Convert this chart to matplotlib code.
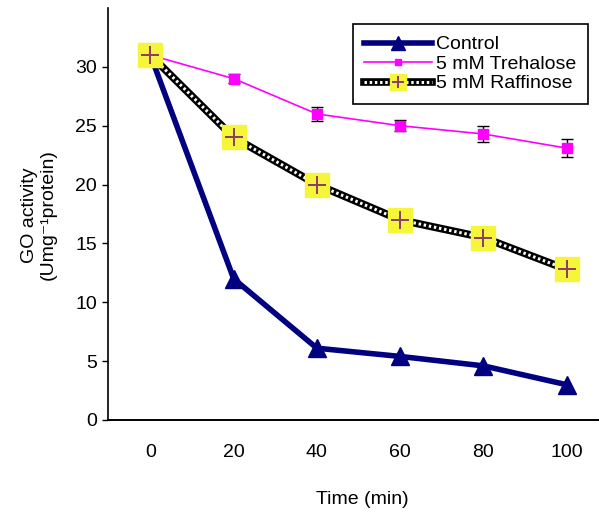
import matplotlib
matplotlib.use('Agg')
import matplotlib.pyplot as plt
from matplotlib.lines import Line2D
from matplotlib.legend_handler import HandlerTuple

plt.rcParams['font.family'] = ['Liberation Sans', 'DejaVu Sans']
plt.rcParams['font.size'] = 14

time_min = [0, 20, 40, 60, 80, 100]
control = [31.0, 12.0, 6.1, 5.4, 4.6, 3.0]
trehalose = [31.0, 29.0, 26.0, 25.0, 24.3, 23.1]
trehalose_err = [0.0, 0.4, 0.6, 0.45, 0.7, 0.8]
raffinose = [31.0, 24.0, 20.0, 17.0, 15.5, 12.8]

x_ticks = [0, 20, 40, 60, 80, 100]
y_ticks = [0, 5, 10, 15, 20, 25, 30]


def main():
    fig = plt.figure(figsize=(5.99, 5.12), dpi=100)
    ax = fig.add_axes([108 / 599, 92 / 512, 491 / 599, 412 / 512])

    # trehalose with error bars
    ax.errorbar(time_min, trehalose, yerr=trehalose_err, color='#FF00FF',
                lw=1.2, marker='s', ms=6.5, mec='#FF00FF', ecolor='black',
                elinewidth=1.0, capsize=4, capthick=1.0, zorder=3)
    h_tre = Line2D([], [], color='#FF00FF', lw=1.2, marker='s', ms=7)

    # raffinose: black line with white chain pattern
    l_raf_black, = ax.plot(time_min, raffinose, color='black', lw=5.5, zorder=2)
    l_raf_white, = ax.plot(time_min, raffinose, color='white', lw=2.2,
                           linestyle=(0, (0.8, 0.9)), zorder=2.1)
    m_raf_sq, = ax.plot(time_min, raffinose, ls='none', marker='s', ms=17,
                        mfc='#F5F53A', mec='#F5F53A', zorder=4)
    m_raf_plus, = ax.plot(time_min, raffinose, ls='none', marker='+', ms=13,
                          mew=1.4, color='#8B3A6E', zorder=5)

    # control
    l_ctrl, = ax.plot(time_min, control, color='#000080', lw=4, marker='^',
                      ms=13.5, zorder=3)

    ax.set_xlim(-10.2, 107.8)
    ax.set_ylim(0, 35)
    ax.set_xticks(x_ticks)
    ax.set_yticks(y_ticks)
    ax.tick_params(axis='x', length=0, pad=17, labelsize=14)
    ax.tick_params(axis='y', length=4, width=1, direction='out', pad=4,
                   labelsize=14)
    ax.spines['top'].set_visible(False)
    ax.spines['right'].set_visible(False)
    ax.spines['left'].set_linewidth(1.2)
    ax.spines['bottom'].set_linewidth(1.4)

    fig.text(362 / 599, 12 / 512, 'Time (min)', ha='center', va='center',
             fontsize=14)
    fig.text(39 / 599, 1 - 215 / 512, 'GO activity\n(Umg\u207b\u00b9protein)',
             rotation=90, ha='center', va='center', multialignment='center',
             fontsize=14, linespacing=1.1)

    leg = ax.legend([l_ctrl, h_tre, (l_raf_black, l_raf_white, m_raf_sq, m_raf_plus)],
                    ['Control', '5 mM Trehalose', '5 mM Raffinose'],
                    handler_map={tuple: HandlerTuple(ndivide=1, pad=0)},
                    loc='upper right', bbox_to_anchor=(0.978, 0.961),
                    borderaxespad=0, fancybox=False, framealpha=1,
                    edgecolor='black', fontsize=14, handlelength=3.5,
                    labelspacing=0.1, handletextpad=0.2, borderpad=0.6,
                    markerscale=0.7)
    leg.get_frame().set_linewidth(1.2)

    fig.savefig('out.png', dpi=100)


if __name__ == '__main__':
    main()
